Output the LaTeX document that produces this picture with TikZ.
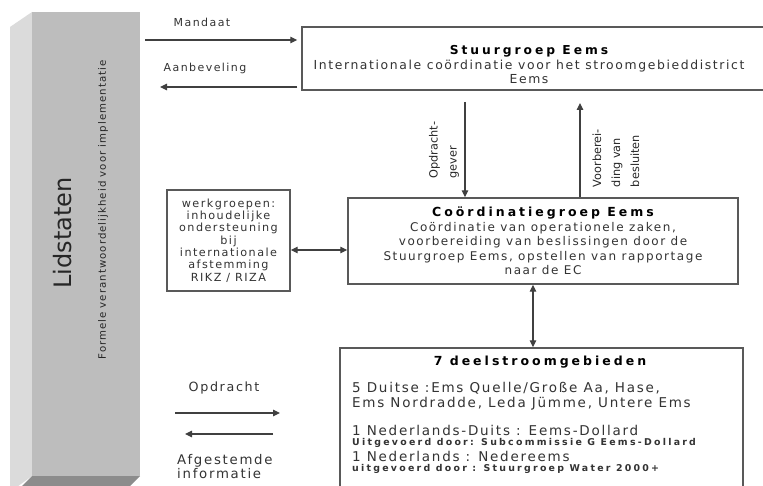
\documentclass[tikz,border=0pt]{standalone}
\usepackage{fontspec}
\setmainfont{DejaVu Sans}
\newfontfamily\spc[LetterSpace=13]{DejaVu Sans}
\newfontfamily\spt[LetterSpace=24]{DejaVu Sans}
\newfontfamily\spf[LetterSpace=10]{DejaVu Sans}
\usetikzlibrary{arrows.meta}

\tikzset{
  box/.style={draw=black!65, line width=1.4pt, fill=white, inner sep=0pt},
  line/.style={draw=black!75, line width=1.2pt},
  txt/.style={text=black!80, inner sep=0pt, font=\spc\fontsize{11}{13}\selectfont},
  txtb/.style={text=black!80, inner sep=0pt, font=\spc\fontsize{12}{14.5}\selectfont},
  txtc/.style={text=black!80, inner sep=0pt, font=\spc\fontsize{13.5}{15}\selectfont},
  side/.style={rotate=90, align=left, text=black!85, font=\fontsize{11.3}{19}\selectfont},
}

\begin{document}
\begin{tikzpicture}[x=1pt,y=-1pt, >={Triangle[length=7pt,width=6.5pt]}]
\useasboundingbox (0,0) rectangle (763,486);
% Lidstaten block
\fill[black!14] (10,27) -- (32,12) -- (32,476) -- (10,492) -- cycle;
\fill[black!26] (32,12) rectangle (140,476);
\fill[black!45] (32,476) -- (140,476) -- (124,492) -- (16,492) -- cycle;
\node[rotate=90, text=black!85, font=\fontsize{24}{24}\selectfont] (lid) at (63,233) {Lidstaten};
\node[rotate=90, text=black!85, font=\spf\fontsize{10.2}{10}\selectfont] (frm) at (103,210) {Formele verantwoordelijkheid voor implementatie};

% boxes
\node[box, minimum width=466pt, minimum height=63pt] (sg) at (535,58.5) {};
\node[txt, align=center, font=\spc\fontsize{12.4}{14}\selectfont] (sgt) at (529,65) {{\spt\bfseries\fontsize{12.3}{14}\selectfont\color{black} Stuurgroep Eems}\\[1pt]
  Internationale coördinatie voor het stroomgebieddistrict\\ Eems};
\node[box, minimum width=390pt, minimum height=86pt, align=center, txtb] (cg) at (543,241)
  {{\spt\bfseries\fontsize{12.5}{14.5}\selectfont\color{black} Coördinatiegroep Eems}\\
  Coördinatie van operationele zaken,\\ voorbereiding van beslissingen door de\\
  Stuurgroep Eems, opstellen van rapportage\\ naar de EC};
\node[box, minimum width=123pt, minimum height=101pt, align=center, txt, font=\spc\fontsize{11.2}{12.3}\selectfont] (wg) at (228.5,240.5)
  {werkgroepen:\\inhoudelijke\\ondersteuning\\bij\\internationale\\afstemming\\RIKZ / RIZA};
\node[box, minimum width=403pt, minimum height=160pt] (ds) at (541.5,428) {};
\node[inner sep=0pt, font=\spt\bfseries\fontsize{12.5}{14}\selectfont] (dst) at (540,362) {7 deelstroomgebieden};
\foreach \y/\t in {388/{5 Duitse :Ems Quelle/Große Aa, Hase,}, 404/{Ems Nordradde, Leda Jümme, Untere Ems},
  430/{1 Nederlands-Duits : Eems-Dollard}, 456/{1 Nederlands : Nedereems}}
  \node[txtc, anchor=west] (d\y) at (352,\y) {\t};
\foreach \y/\t in {443/{Uitgevoerd door: Subcommissie G Eems-Dollard}, 469/{uitgevoerd door : Stuurgroep Water 2000+}}
  \node[anchor=west, inner sep=0pt, text=black!80, font=\spt\bfseries\fontsize{9.4}{10}\selectfont] (u\y) at (352,\y) {\t};

% mandaat / aanbeveling
\coordinate (man) at (145,40);
\coordinate (aan) at (160,87);
\draw[line,->,shorten >=4pt] (man) -- (man -| sg.west);
\draw[line,->,shorten <=4pt] (aan -| sg.west) -- (aan);
\node[txt] (mtx) at (202,22) {Mandaat};
\node[txt] (atx) at (205,68) {Aanbeveling};

% vertical links
\coordinate (og) at (465,102);
\coordinate (vb) at (580,103);
\draw[line,->] (og) -- (og |- cg.north);
\draw[line,->] (vb |- cg.north) -- (vb);
\node[side] (ogl) at (444,150) {Opdracht-\\gever};
\node[side] (vbl) at (616,158) {Voorberei-\\ding van\\besluiten};
\coordinate (wc) at (0,250);
\draw[line,<->] (wg.east |- wc) -- (cg.west |- wc);
\coordinate (cd) at (533,0);
\draw[line,<->] (cd |- cg.south) -- (cd |- ds.north);

% legend
\coordinate (l1) at (175,413);
\coordinate (l2) at (280,413);
\coordinate (l3) at (273,434);
\coordinate (l4) at (185,434);
\draw[line,->] (l1) -- (l2);
\draw[line,->] (l3) -- (l4);
\node[txtb, font=\spc\fontsize{12.7}{14}\selectfont] (opd) at (224,388) {Opdracht};
\node[txtb, align=left, anchor=west, font=\spc\fontsize{13.3}{14}\selectfont] (afg) at (177,467) {Afgestemde\\informatie};
\end{tikzpicture}
\end{document}
